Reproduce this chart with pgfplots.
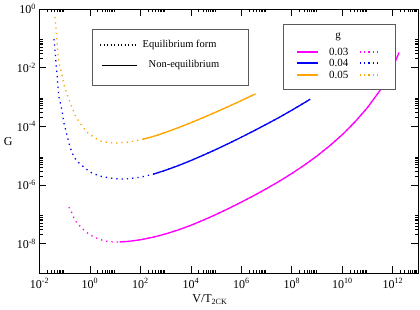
\documentclass[border=0pt]{standalone}
\usepackage{fontspec}
\setmainfont{Liberation Serif}
\usepackage{pgfplots}
\pgfplotsset{compat=1.18}
\definecolor{gmag}{RGB}{255,0,255}
\definecolor{gblue}{RGB}{0,0,255}
\definecolor{gorange}{RGB}{255,165,0}
\definecolor{lgray}{RGB}{90,90,90}
\tikzset{gdot/.style={line width=1.3pt, dash pattern=on 1.3pt off 4pt},
         gsolid/.style={line width=1.3pt}}
\begin{document}
\begin{tikzpicture}
\begin{axis}[
  scale only axis, width=378.5pt, height=264pt,
  xmode=log, ymode=log,
  xmin=1e-2, xmax=1e13, ymin=1e-9, ymax=1,
  axis line style={line width=0.9pt},
  tick align=inside,
  major tick length=7pt, minor tick length=3.5pt,
  every tick/.style={black, line width=0.7pt},
  xtick={1e-2,1e0,1e2,1e4,1e6,1e8,1e10,1e12},
  xticklabels={10\textsuperscript{-2},10\textsuperscript{0},10\textsuperscript{2},10\textsuperscript{4},10\textsuperscript{6},10\textsuperscript{8},10\textsuperscript{10},10\textsuperscript{12}},
  minor xtick={2e-2,3e-2,4e-2,5e-2,6e-2,7e-2,8e-2,9e-2,
    2e0,3e0,4e0,5e0,6e0,7e0,8e0,9e0,
    2e2,3e2,4e2,5e2,6e2,7e2,8e2,9e2,
    2e4,3e4,4e4,5e4,6e4,7e4,8e4,9e4,
    2e6,3e6,4e6,5e6,6e6,7e6,8e6,9e6,
    2e8,3e8,4e8,5e8,6e8,7e8,8e8,9e8,
    2e10,3e10,4e10,5e10,6e10,7e10,8e10,9e10,
    2e12,3e12,4e12,5e12,6e12,7e12,8e12,9e12},
  ytick={1e-8,1e-6,1e-4,1e-2,1e0},
  yticklabels={10\textsuperscript{-8},10\textsuperscript{-6},10\textsuperscript{-4},10\textsuperscript{-2},10\textsuperscript{0}},
  minor ytick={2e-8,3e-8,4e-8,5e-8,6e-8,7e-8,8e-8,9e-8,
    2e-6,3e-6,4e-6,5e-6,6e-6,7e-6,8e-6,9e-6,
    2e-4,3e-4,4e-4,5e-4,6e-4,7e-4,8e-4,9e-4,
    2e-2,3e-2,4e-2,5e-2,6e-2,7e-2,8e-2,9e-2},
  tick label style={font=\fontsize{12}{12}\selectfont},
  xticklabel style={yshift=-2pt},
  xlabel={V/T\textsubscript{2CK}},
  ylabel={G},
  label style={font=\fontsize{12}{12}\selectfont},
  xlabel style={at={(axis description cs:0.45,-0.102)}, anchor=center},
  ylabel style={at={(axis description cs:-0.083,0.496)}, anchor=center, rotate=-90},
  clip=true,
]
% g = 0.05 (orange)
\addplot[gorange, gdot] coordinates {
(0.0410,0.533)(0.0449,0.225)(0.0492,0.0877)(0.0514,0.0400)(0.0590,0.0156)
(0.0774,5.62e-3)(0.1019,2.02e-3)(0.1607,6.75e-4)(0.2529,2.43e-4)(0.399,1.30e-4)
(0.753,6.40e-5)(1.563,4.00e-5)(3.236,2.92e-5)(10,2.70e-5)(31.62,2.897e-5)
(100,3.443e-5)(123.3,3.63e-5)(316.2,4.487e-5)(1000,6.223e-5)(3162,8.995e-5)
(1e4,1.330e-4)(3.162e4,2.009e-4)(1e5,3.083e-4)(3.162e5,4.797e-4)(1e6,7.568e-4)(3.606e6,1.271e-3)};
\addplot[gorange, gsolid] coordinates {
(123.3,3.63e-5)(316.2,4.487e-5)(1000,6.223e-5)(3162,8.995e-5)
(1e4,1.330e-4)(3.162e4,2.009e-4)(1e5,3.083e-4)(3.162e5,4.797e-4)(1e6,7.568e-4)(3.606e6,1.271e-3)};
% g = 0.04 (blue)
\addplot[gblue, gdot] coordinates {
(0.0374,0.0948)(0.0410,0.0400)(0.0449,0.0156)(0.0492,6.58e-3)(0.0538,2.19e-3)
(0.0590,1.0e-3)(0.0774,3.60e-4)(0.0929,1.30e-4)(0.1222,5.06e-5)(0.1607,1.97e-5)
(0.2312,8.99e-6)(0.3327,6.08e-6)(0.628,3.79e-6)(1.189,2.56e-6)(2.460,2.02e-6)
(6.12,1.73e-6)(15.2,1.60e-6)(31.62,1.637e-6)(100,1.845e-6)(316.2,2.323e-6)
(1000,3.192e-6)(3162,4.581e-6)(1e4,6.823e-6)(3.162e4,1.045e-5)(1e5,1.637e-5)
(3.162e5,2.618e-5)(1e6,4.256e-5)(3.162e6,7.047e-5)(1e7,1.186e-4)(3.162e7,2.018e-4)
(1e8,3.548e-4)(3.162e8,6.383e-4)(5.38e8,8.433e-4)};
\addplot[gblue, gsolid] coordinates {
(316.2,2.323e-6)
(1000,3.192e-6)(3162,4.581e-6)(1e4,6.823e-6)(3.162e4,1.045e-5)(1e5,1.637e-5)
(3.162e5,2.618e-5)(1e6,4.256e-5)(3.162e6,7.047e-5)(1e7,1.186e-4)(3.162e7,2.018e-4)
(1e8,3.548e-4)(3.162e8,6.383e-4)(5.38e8,8.433e-4)};
% g = 0.03 (magenta)
\addplot[gmag, gdot] coordinates {
(0.1466,1.77e-7)(0.1928,1.11e-7)(0.2312,7.48e-8)(0.3034,5.06e-8)(0.4365,3.69e-8)
(0.628,2.70e-8)(0.906,2.13e-8)(1.426,1.68e-8)(2.249,1.44e-8)(3.882,1.23e-8)
(6.70,1.16e-8)(10,1.14e-8)(15.1,1.148e-8)(31.62,1.191e-8)(100,1.355e-8)(316.2,1.660e-8)
(1000,2.148e-8)(3162,2.938e-8)(1e4,4.236e-8)(3.162e4,6.383e-8)(1e5,9.93e-8)
(3.162e5,1.592e-7)(1e6,2.612e-7)(3.162e6,4.385e-7)(1e7,7.534e-7)(3.162e7,1.337e-6)
(1e8,2.466e-6)(3.162e8,4.786e-6)(1e9,9.817e-6)(3.162e9,2.168e-5)(1e10,5.212e-5)
(3.162e10,1.406e-4)(1e11,4.385e-4)(3.162e11,1.698e-3)(1e12,0.01012)(1.778e12,0.03289)};
\addplot[gmag, gsolid] coordinates {
(15.1,1.148e-8)(31.62,1.191e-8)(100,1.355e-8)(316.2,1.660e-8)
(1000,2.148e-8)(3162,2.938e-8)(1e4,4.236e-8)(3.162e4,6.383e-8)(1e5,9.93e-8)
(3.162e5,1.592e-7)(1e6,2.612e-7)(3.162e6,4.385e-7)(1e7,7.534e-7)(3.162e7,1.337e-6)
(1e8,2.466e-6)(3.162e8,4.786e-6)(1e9,9.817e-6)(3.162e9,2.168e-5)(1e10,5.212e-5)
(3.162e10,1.406e-4)(1e11,4.385e-4)(3.162e11,1.698e-3)(1e12,0.01012)(1.778e12,0.03289)};
\end{axis}
% legend 1
\draw[lgray, line width=0.8pt, fill=white] (52.5pt,244pt) rectangle (208.5pt,188pt);
\draw[black, line width=1.1pt, dash pattern=on 1.1pt off 2.4pt] (60.5pt,228pt) -- (97pt,228pt);
\node[anchor=west, inner sep=0pt, font=\fontsize{10.5}{10.5}\selectfont] at (103pt,228pt) {Equilibrium form};
\draw[black, line width=0.8pt] (62pt,208pt) -- (97pt,208pt);
\node[anchor=west, inner sep=0pt, font=\fontsize{10.5}{10.5}\selectfont] at (109pt,208pt) {Non-equilibrium};
% legend 2
\draw[lgray, line width=0.8pt, fill=white] (243.5pt,249pt) rectangle (355.5pt,184pt);
\node[font=\fontsize{11}{11}\selectfont] at (298.5pt,236pt) {g};
\foreach \c/\t/\y in {gmag/0.03/221, gblue/0.04/210, gorange/0.05/198}{
  \draw[\c, line width=1.2pt] (257.5pt,\y pt) -- (278.5pt,\y pt);
  \node[anchor=west, inner sep=0pt, font=\fontsize{11}{11}\selectfont] at (289.5pt,\y pt) {\t};
  \draw[\c, line width=1.2pt, dash pattern=on 1.2pt off 3pt] (320.5pt,\y pt) -- (340.5pt,\y pt);
}
\pgfresetboundingbox
\path[use as bounding box] (-39.5pt,-37pt) rectangle (380.5pt,273pt);
\end{tikzpicture}
\end{document}
